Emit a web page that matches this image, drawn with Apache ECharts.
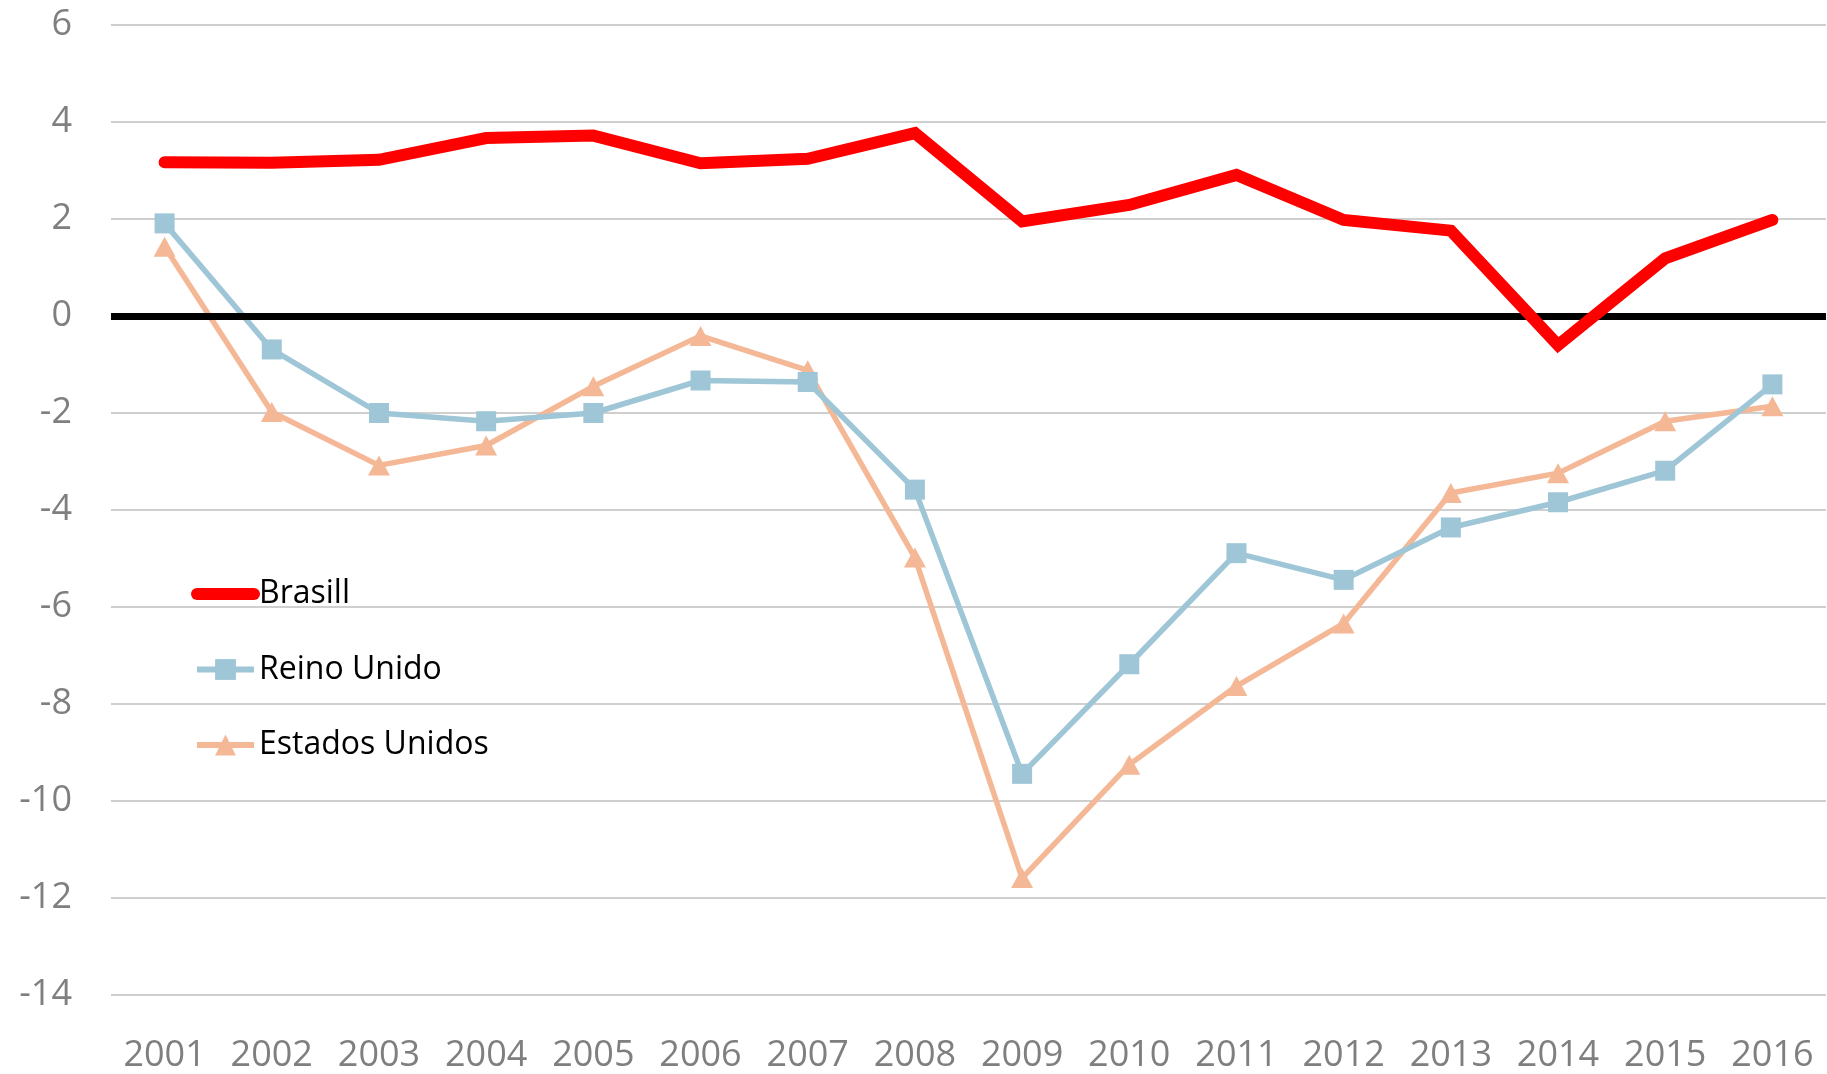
<!DOCTYPE html>
<html>
<head>
<meta charset="utf-8">
<script src="https://cdn.jsdelivr.net/npm/echarts@6/dist/echarts.min.js"></script>
<style>
html,body{margin:0;padding:0;background:#fff;}
#chart{width:1827px;height:1074px;}
</style>
</head>
<body>
<div id="chart"></div>
<script>
const years = ['2001','2002','2003','2004','2005','2006','2007','2008','2009','2010','2011','2012','2013','2014','2015','2016'];
const brasil = [3.17, 3.16, 3.22, 3.67, 3.72, 3.15, 3.24, 3.77, 1.95, 2.29, 2.91, 1.98, 1.76, -0.60, 1.19, 1.98];
const reinoUnido = [1.91, -0.69, -2.00, -2.17, -2.00, -1.33, -1.36, -3.58, -9.44, -7.18, -4.89, -5.44, -4.36, -3.84, -3.19, -1.41];
const estadosUnidos = [1.43, -1.98, -3.08, -2.67, -1.45, -0.41, -1.12, -4.98, -11.59, -9.25, -7.63, -6.34, -3.65, -3.24, -2.17, -1.86];
const seriesNames = ['Brasill', 'Reino Unido', 'Estados Unidos'];
const zeroLine = [0];

const chart = echarts.init(document.getElementById('chart'), null, {renderer: 'canvas'});
const FONT = '"Open Sans", "Liberation Sans", sans-serif';
const RED = '#FF0000', BLUE = '#9EC6D6', PEACH = '#F5B896';

chart.setOption({
  animation: false,
  backgroundColor: '#ffffff',
  grid: {left: 111, right: 1, top: 25, bottom: 72, containLabel: false},
  legend: {
    orient: 'vertical',
    left: 186,
    top: 573,
    padding: 5,
    itemWidth: 57,
    itemHeight: 26,
    itemGap: 43.5,
    textStyle: {fontFamily: FONT, fontSize: 32, color: '#000000'},
    data: [
      {name: seriesNames[0], itemStyle: {opacity: 0}, lineStyle: {width: 12, cap: 'round'}},
      {name: seriesNames[1], lineStyle: {width: 6}},
      {name: seriesNames[2], lineStyle: {width: 6}}
    ]
  },
  xAxis: {
    type: 'category',
    data: years,
    boundaryGap: true,
    axisLine: {show: false},
    axisTick: {show: false},
    axisLabel: {fontFamily: FONT, fontSize: 36, color: '#7F7F7F', margin: 43}
  },
  yAxis: {
    type: 'value',
    min: -14, max: 6, interval: 2,
    axisLine: {show: false},
    axisTick: {show: false},
    axisLabel: {fontFamily: FONT, fontSize: 36, color: '#7F7F7F', margin: 39},
    splitLine: {lineStyle: {color: '#BFBFBF', width: 1.5}}
  },
  series: [
    {
      name: seriesNames[0], type: 'line', data: brasil,
      symbol: 'none',
      lineStyle: {color: RED, width: 12, cap: 'round', join: 'miter'},
      itemStyle: {color: RED},
      z: 10
    },
    {
      name: seriesNames[1], type: 'line', data: reinoUnido,
      symbol: 'rect', symbolSize: 20,
      lineStyle: {color: BLUE, width: 5.5},
      itemStyle: {color: BLUE},
      z: 3,
      markLine: {
        silent: true,
        symbol: 'none',
        z: 5,
        label: {show: false},
        lineStyle: {color: '#000000', width: 7, type: 'solid'},
        emphasis: {disabled: true},
        data: zeroLine.map(v => ({yAxis: v}))
      }
    },
    {
      name: seriesNames[2], type: 'line', data: estadosUnidos,
      symbol: 'triangle', symbolSize: [22, 20],
      lineStyle: {color: PEACH, width: 5.5},
      itemStyle: {color: PEACH},
      z: 2
    }
  ]
});
</script>
</body>
</html>
